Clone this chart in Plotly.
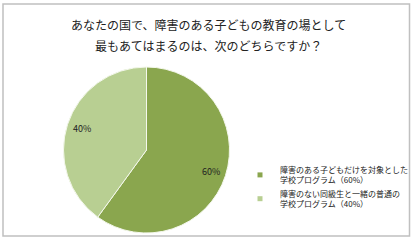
import math
import plotly.graph_objects as go

labels = ["障害のある子どもだけを対象とした<br>学校プログラム（60%）",
          "障害のない同級生と一緒の普通の<br>学校プログラム（40%）"]
values = [60, 40]
colors = ["#8aa64e", "#b8cf92"]
title_lines = ["あなたの国で、障害のある子どもの教育の場として",
               "最もあてはまるのは、次のどちらですか？"]

FONT = "Noto Sans CJK JP"
TXT = "#222222"
W, H = 417, 240
CX, CY, R = 146.5, 150, 83

fig = go.Figure()
fig.add_trace(go.Pie(
    labels=labels, values=values, sort=False, direction="clockwise", rotation=0,
    marker=dict(colors=colors, line=dict(color="#f4f8ec", width=1)),
    textinfo="none", showlegend=False,
    domain=dict(x=[(CX - R)/W, (CX + R)/W], y=[1-(CY + R)/H, 1-(CY - R)/H]),
    hoverinfo="label+percent",
))

# legend entries with small square symbols
for lab, col in zip(labels, colors):
    fig.add_trace(go.Scatter(x=[None], y=[None], mode="markers", name=lab,
                             marker=dict(symbol="square", size=5, color=col),
                             hoverinfo="skip"))

annotations = []
for i, line in enumerate(title_lines):
    annotations.append(dict(text=line, xref="paper", yref="paper", x=208/W,
                            y=1-(25 + 20*i)/H, xanchor="center", yanchor="middle",
                            showarrow=False, font=dict(family=FONT, size=12, color=TXT)))

# percentage labels placed along each slice's mid-angle
total = sum(values)
cum = 0
for v in values:
    mid = (cum + v/2) / total * 2 * math.pi
    cum += v
    px = CX + 0.82 * R * math.sin(mid)
    py = CY - 0.82 * R * math.cos(mid)
    annotations.append(dict(text=f"{round(v/total*100)}%", xref="paper", yref="paper",
                            x=px/W, y=1-py/H, xanchor="center", yanchor="middle",
                            showarrow=False, font=dict(family=FONT, size=9, color=TXT)))

fig.update_layout(
    width=W, height=H,
    margin=dict(l=0, r=0, t=0, b=0, autoexpand=False),
    paper_bgcolor="white", plot_bgcolor="white",
    font=dict(family=FONT, color=TXT),
    annotations=annotations,
    xaxis=dict(visible=False), yaxis=dict(visible=False),
    legend=dict(x=240/W, y=1-158/H, xanchor="left", yanchor="top",
                font=dict(family=FONT, size=8, color=TXT),
                itemwidth=30, tracegroupgap=3, bgcolor="rgba(0,0,0,0)"),
    shapes=[dict(type="rect", xref="paper", yref="paper", x0=3/W, x1=409.5/W,
                 y0=1-236/H, y1=1-4/H, line=dict(color="#c0c0c0", width=1.5))],
)

fig.write_html("out.html")
